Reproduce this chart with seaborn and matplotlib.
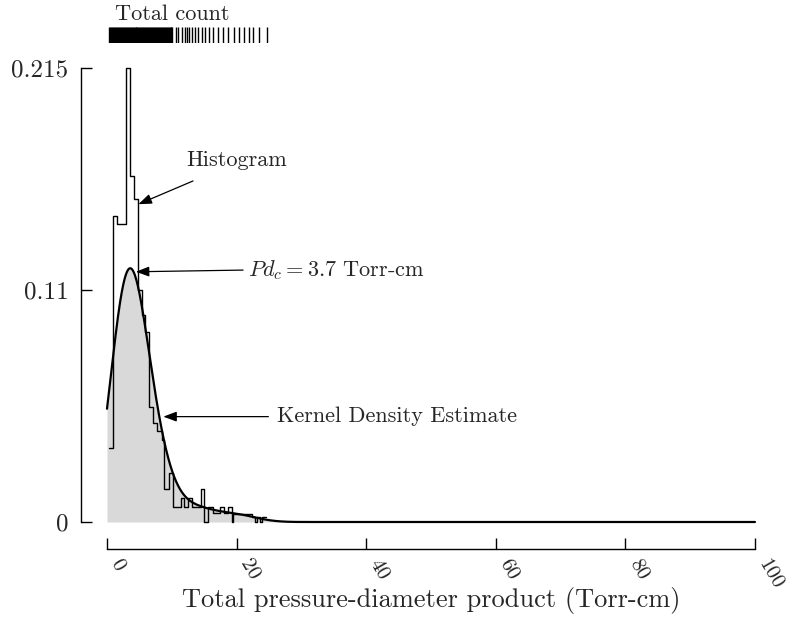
import numpy as np
import pandas as pd
import matplotlib
matplotlib.use("Agg")
import matplotlib.pyplot as plt
import seaborn as sns

# ---------------- data ----------------
bin_edges = [0.31, 0.93, 1.59, 2.93, 3.55, 4.17, 4.74, 5.35, 5.86, 6.53, 7.14,
             7.67, 8.44, 8.84, 9.61, 10.14, 11.37, 11.88, 12.55, 13.07, 14.46,
             14.97, 15.63, 16.31, 17.44, 18.06, 18.72, 19.24, 19.49, 22.3,
             22.8, 23.1, 23.6, 23.9, 24.5]
bin_density = [0.035, 0.145, 0.141, 0.215, 0.164, 0.153, 0.110, 0.098, 0.090,
               0.0546, 0.047, 0.043, 0.039, 0.0155, 0.023, 0.0073, 0.0112,
               0.0073, 0.0112, 0.0073, 0.0155, 0.0, 0.0073, 0.0041, 0.0073,
               0.0041, 0.0073, 0.0, 0.0036, 0.0025, 0.0, 0.0025, 0.0, 0.0025]
rug_values = [0.35, 0.5, 0.65, 0.8, 0.95, 1.1, 1.25, 1.4, 1.55, 1.7, 1.85, 2.0,
              2.15, 2.3, 2.45, 2.6, 2.75, 2.9, 3.05, 3.2, 3.35, 3.5, 3.65, 3.8,
              3.95, 4.1, 4.25, 4.4, 4.55, 4.7, 4.85, 5.0, 5.15, 5.3, 5.45, 5.6,
              5.75, 5.9, 6.05, 6.2, 6.35, 6.5, 6.65, 6.8, 6.95, 7.1, 7.25, 7.4,
              7.55, 7.7, 7.85, 8.0, 8.15, 8.3, 8.45, 8.6, 8.75, 8.9, 9.05, 9.2,
              9.35, 9.5, 9.65, 9.8, 9.95, 10.1, 10.65, 11.0, 11.53, 12.04, 12.3,
              12.7, 13.07, 13.58, 14.09, 14.61, 15.12, 15.74, 16.31, 17.18,
              17.86, 18.72, 19.6, 20.42, 21.14, 21.96, 22.58, 23.46, 24.64]
x_ticks = [0, 20, 40, 60, 80, 100]
x_tick_labels = ["0", "20", "40", "60", "80", "100"]
y_ticks = [0, 0.11, 0.215]
y_tick_labels = ["0", "0.11", "0.215"]
pdc_value = 3.7

# ---------------- style ----------------
sns.set_style("ticks")
plt.rcParams["font.family"] = ["cmr10", "DejaVu Serif"]
plt.rcParams["mathtext.fontset"] = "cm"
plt.rcParams["axes.unicode_minus"] = False
plt.rcParams["axes.formatter.use_mathtext"] = True

edges = np.array(bin_edges)
dens = np.array(bin_density)
centers = (edges[:-1] + edges[1:]) / 2
mass = dens * np.diff(edges)
df = pd.DataFrame({"pd": centers, "density": dens, "mass": mass})

# bandwidth factor (style choice for the kernel width, in Torr-cm)
mean = np.sum(mass * centers) / mass.sum()
std = np.sqrt(np.sum(mass * (centers - mean) ** 2) / mass.sum())
bw_factor = 2.1 / std

fig = plt.figure(figsize=(7.87, 6.23), dpi=100)
ax = fig.add_axes([107 / 787, 101 / 623, 648 / 787, 454 / 623])

# KDE fill
sns.kdeplot(data=df, x="pd", weights="mass", bw_method=bw_factor, clip=(0, 100),
            cut=200, gridsize=2000, fill=True, color="0.85", alpha=1,
            linewidth=0, ax=ax)
# histogram outline
sns.histplot(data=df, x="pd", weights="density", bins=bin_edges, element="step",
             fill=False, color="black", linewidth=1.0, ax=ax)
# KDE line
sns.kdeplot(data=df, x="pd", weights="mass", bw_method=bw_factor, clip=(0, 100),
            cut=200, gridsize=2000, fill=False, color="black", linewidth=1.6,
            ax=ax)
for ln in ax.lines:
    ln.set_clip_on(False)

sns.despine(ax=ax)
ax.spines["left"].set_position(("outward", 18.7))
ax.spines["bottom"].set_position(("outward", 19.4))
for s in ("left", "bottom"):
    ax.spines[s].set_color("black")
    ax.spines[s].set_linewidth(1)

ax.set_xlim(0, 100)
ax.set_ylim(0, 0.215)
ax.set_xticks(x_ticks)
ax.set_xticklabels(x_tick_labels, rotation=-60, ha="left", va="top",
                   fontsize=15)
ax.set_yticks(y_ticks)
ax.set_yticklabels(y_tick_labels, fontsize=18)
ax.tick_params(axis="both", direction="in", length=8, width=1, color="black")
ax.tick_params(axis="y", pad=9)
ax.tick_params(axis="x", pad=5)
ax.set_ylabel("")
ax.set_xlabel("Total pressure-diameter product (Torr-cm)", fontsize=19,
              va="center")
ax.xaxis.set_label_coords(0.5, -0.172)

arrow_kw = dict(arrowstyle="-|>,head_length=0.8,head_width=0.3",
                mutation_scale=10, color="black", lw=0.9, shrinkA=0, shrinkB=0)
# Histogram annotation
ax.annotate("", xy=(4.85, 0.1505), xytext=(13.27, 0.1615), arrowprops=arrow_kw)
ax.text(12.2, 0.1714, "Histogram", fontsize=16, va="center", ha="left")
# Pd_c annotation
ax.annotate("", xy=(4.45, 0.1185), xytext=(21.0, 0.1193), arrowprops=arrow_kw)
ax.text(21.76, 0.1193, r"$Pd_c = %.1f$ Torr-cm" % pdc_value, fontsize=16,
        va="center", ha="left")
# KDE annotation
ax.annotate("", xy=(8.69, 0.0499), xytext=(24.9, 0.0499), arrowprops=arrow_kw)
ax.text(26.2, 0.0499, "Kernel Density Estimate", fontsize=16, va="center",
        ha="left")

# rug ("Total count")
rax = fig.add_axes([107 / 787, 580 / 623, 648 / 787, 16 / 623])
sns.rugplot(x=rug_values, height=1, color="black", lw=1.2, ax=rax,
            expand_margins=False)
rax.set_xlim(0, 100)
rax.set_ylim(0, 1)
rax.axis("off")
fig.text(115 / 787, 1 - 20 / 623, "Total count", fontsize=16, ha="left",
         va="baseline")

fig.savefig("out.png", dpi=100)
